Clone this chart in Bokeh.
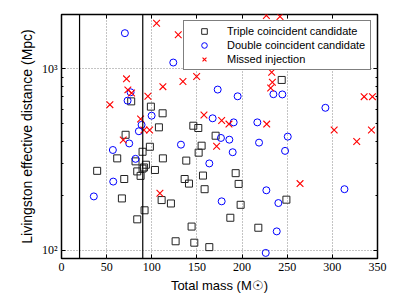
from bokeh.plotting import figure
from bokeh.models import (ColumnDataSource, Span, Legend, LegendItem, FixedTicker,
                          LinearAxis, LogAxis)
from bokeh.embed import file_html
from bokeh.resources import INLINE

# ---- data ----
triple_mass = [39.5, 61.7, 71, 69.5, 66.9, 77.2, 82, 83.9, 87.6, 89.8, 89.8, 91.3, 93.5, 97.9,
               99, 107.9, 112, 112.3, 103.5, 83.9, 92, 110.9, 121.2, 126.4, 136.4, 141.2, 138.2,
               146, 151.5, 155.2, 151.9, 156.7, 158.5, 144.1, 147.1, 163.7, 170.7, 192.9, 196.2,
               198.4, 187, 218, 243.9, 249.1]
triple_dist = [274, 321, 433, 247, 193, 662, 309, 272, 257, 349, 282, 286, 296, 372,
               619, 476, 569, 321, 277, 148, 166, 189, 181, 112, 247, 233, 312,
               486, 472, 377, 345, 258, 217, 135, 110, 104, 428, 266, 232,
               178, 151, 133, 869, 190]

double_mass = [70.2, 123.8, 35.8, 56.9, 57.3, 73.2, 76.5, 75, 82, 85.7, 88.7, 99.8, 132.3, 163.7,
               167.4, 173, 176.6, 185.9, 190.7, 189.6, 195.1, 177.4, 218.8, 216.9, 226.9, 234.7,
               244.6, 240.2, 238.4, 247.6, 250.6, 226.2, 292.3, 313.4, 192.9]
double_dist = [1574, 1084, 198, 357, 239, 668, 743, 388, 319, 453, 491, 552, 382, 301,
               534, 769, 416, 407, 507, 347, 706, 186, 392, 507, 214, 725,
               723, 182, 127, 353, 423, 96.6, 610, 217, 1066]

missed_mass = [105.3, 129.3, 226.9, 242, 72, 73.5, 77.6, 53.6, 95.7, 112.3, 134.5, 149.7, 87.6,
               91.3, 97.6, 68.4, 109, 157.8, 171.8, 177.4, 185.5, 227.3, 232.8, 233.6, 231.7,
               264.2, 302, 327, 343.3, 335.2, 344.4]
missed_dist = [1786, 1541, 1972, 1945, 881, 766, 736, 635, 707, 798, 851, 907, 529,
               460, 460, 405, 206, 557, 374, 519, 496, 496, 959, 844, 785,
               233, 460, 398, 460, 703, 703]

mass_cuts = [20, 90]
x_ticks = [0, 50, 100, 150, 200, 250, 300, 350]
y_ticks = [100, 1000]
y_minor = [200, 300, 400, 500, 600, 700, 800, 900, 2000]
y_tick_labels = {100: "10\u00b2", 1000: "10\u00b3"}

p = figure(width=407, height=305, x_range=(0, 350), y_range=(90, 1995), y_axis_type="log",
           output_backend="svg", toolbar_location=None,
           min_border_left=61, min_border_right=30, min_border_top=14, min_border_bottom=47)
p.background_fill_color = "white"
p.border_fill_color = "white"
p.outline_line_color = "black"
p.outline_line_width = 1.5

for m in mass_cuts:
    p.add_layout(Span(location=m, dimension="height", line_color="black", line_width=1.2))

s_t = ColumnDataSource(dict(x=triple_mass, y=triple_dist))
s_d = ColumnDataSource(dict(x=double_mass, y=double_dist))
s_m = ColumnDataSource(dict(x=missed_mass, y=missed_dist))

r_t = p.scatter("x", "y", source=s_t, marker="square", size=7, fill_color=None,
                line_color="#222222", line_width=1)
r_d = p.scatter("x", "y", source=s_d, marker="circle", size=7, fill_color=None,
                line_color="#0000ff", line_width=1)
r_m = p.scatter("x", "y", source=s_m, marker="x", size=9.5,
                line_color="#ff0000", line_width=1.1)

# axes
xa = p.xaxis[0]
ya = p.yaxis[0]
xa.ticker = FixedTicker(ticks=x_ticks, minor_ticks=[])
ya.ticker = FixedTicker(ticks=y_ticks, minor_ticks=y_minor)
ya.major_label_overrides = y_tick_labels
for ax in (xa, ya):
    ax.major_tick_in = 4
    ax.major_tick_out = 0
    ax.minor_tick_in = 2
    ax.minor_tick_out = 0
    ax.axis_line_color = None
    ax.major_label_text_font = "Liberation Serif"
    ax.major_label_text_font_size = "12px"
    ax.major_label_text_color = "black"
    ax.axis_label_text_font = "Liberation Sans"
    ax.axis_label_text_font_style = "normal"
    ax.axis_label_text_color = "black"
    ax.major_label_standoff = 4
    ax.axis_label_standoff = 4
xa.axis_label_text_font_size = "13px"
ya.axis_label_text_font_size = "14px"
xa.axis_label = "Total mass (M\u2609)"
ya.axis_label = "Livingston effective distance (Mpc)"

# mirrored ticks on top and right
top = LinearAxis(ticker=FixedTicker(ticks=x_ticks, minor_ticks=[]))
right = LogAxis(ticker=FixedTicker(ticks=y_ticks, minor_ticks=y_minor))
for ax in (top, right):
    ax.major_tick_in = 4
    ax.major_tick_out = 0
    ax.minor_tick_in = 2
    ax.minor_tick_out = 0
    ax.axis_line_color = None
    ax.major_label_text_font_size = "1px"
    ax.major_label_text_color = None
    ax.major_label_standoff = 0
p.add_layout(top, "above")
p.add_layout(right, "right")

# grid
for g in (p.xgrid[0], p.ygrid[0]):
    g.grid_line_color = "#888888"
    g.grid_line_dash = "1 2"
    g.grid_line_width = 1
p.xgrid[0].ticker = xa.ticker
p.ygrid[0].ticker = ya.ticker

legend = Legend(items=[
    LegendItem(label="Triple coincident candidate", renderers=[r_t]),
    LegendItem(label="Double coincident candidate", renderers=[r_d]),
    LegendItem(label="Missed injection", renderers=[r_m]),
], location="top_right")
legend.margin = 6
legend.padding = 3
legend.spacing = 0
legend.label_height = 14
legend.glyph_height = 14
legend.glyph_width = 34
legend.label_standoff = 6
legend.label_width = 140
legend.label_text_font = "Liberation Sans"
legend.label_text_font_size = "11px"
legend.label_text_color = "black"
legend.border_line_color = "black"
legend.border_line_width = 1.2
legend.background_fill_color = "white"
legend.background_fill_alpha = 1.0
p.add_layout(legend, "center")

open("out.html", "w").write(file_html(p, INLINE))
